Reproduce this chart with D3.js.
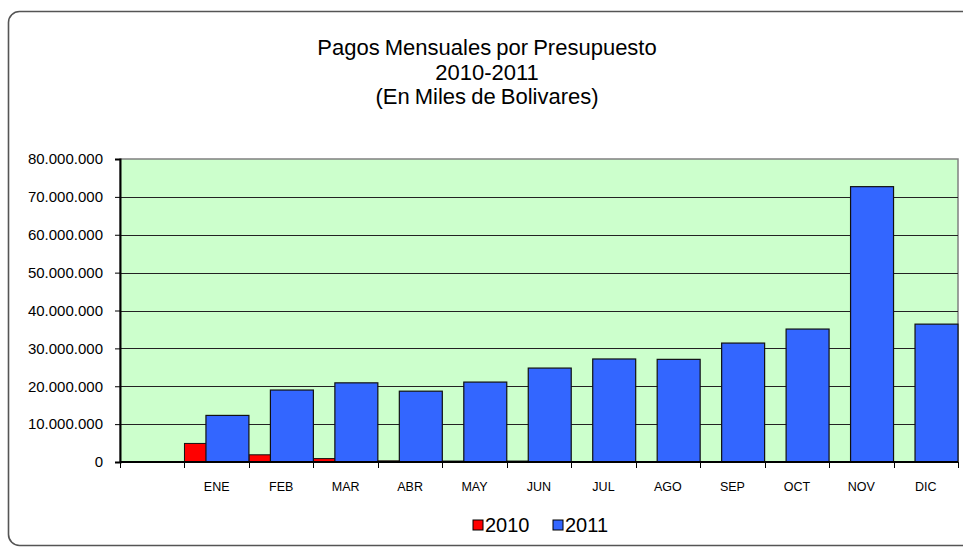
<!DOCTYPE html>
<html>
<head>
<meta charset="utf-8">
<script src="https://cdn.jsdelivr.net/npm/d3@7"></script>
<style>
  body { margin: 0; background: #fff; }
  svg { display: block; font-family: "Liberation Sans", Arial, sans-serif; }
</style>
</head>
<body>
<div id="canvas"></div>
<script>
// chart data
var months = ["", "ENE", "FEB", "MAR", "ABR", "MAY", "JUN", "JUL", "AGO", "SEP", "OCT", "NOV", "DIC"];
var pagos2010 = [0, 4900000, 1900000, 900000, 300000, 250000, 250000, 100000, 100000, 100000, 0, 0, 0];
var pagos2011 = [100000, 12300000, 19000000, 20900000, 18700000, 21100000, 24800000, 27200000, 27100000, 31400000, 35100000, 72700000, 36400000];
var yticks = [0, 10000000, 20000000, 30000000, 40000000, 50000000, 60000000, 70000000, 80000000];
var series = ["2010", "2011"];
var colors = ["#FF0000", "#3366FF"];
var titleLines = ["Pagos Mensuales por Presupuesto", "2010-2011", "(En Miles de Bolivares)"];

var W = 963, H = 547;
var plot = { left: 120, right: 958, top: 159, bottom: 462 };

var svg = d3.select("#canvas").append("svg")
  .attr("width", W)
  .attr("height", H);

// outer frame
svg.append("rect")
  .attr("x", 8.5).attr("y", 11.5)
  .attr("width", 980).attr("height", 534)
  .attr("rx", 11)
  .attr("fill", "#fff")
  .attr("stroke", "#555")
  .attr("stroke-width", 1.6);

// title
svg.append("g").selectAll("text")
  .data(titleLines)
  .enter()
  .append("text")
  .attr("x", 487)
  .attr("y", (d, i) => 55 + i * 24.5)
  .attr("text-anchor", "middle")
  .attr("font-size", 22)
  .attr("word-spacing", -1)
  .attr("fill", "#000")
  .text(d => d);

var fmt = d3.formatLocale({ decimal: ",", thousands: ".", grouping: [3], currency: ["", ""] }).format(",");

var x = d3.scaleBand().domain(d3.range(months.length)).range([plot.left, plot.right]).padding(0);
var y = d3.scaleLinear().domain([0, 80000000]).range([plot.bottom, plot.top]);
var bw = x.bandwidth();

// plot background
svg.append("rect")
  .attr("x", plot.left).attr("y", plot.top)
  .attr("width", plot.right - plot.left).attr("height", plot.bottom - plot.top)
  .attr("fill", "#CCFFCC")
  .attr("stroke", "#808080")
  .attr("stroke-width", 1.5);

// gridlines
svg.append("g").selectAll("line")
  .data(yticks.slice(1, -1))
  .enter()
  .append("line")
  .attr("x1", plot.left).attr("x2", plot.right)
  .attr("y1", d => Math.round(y(d)) + 0.5).attr("y2", d => Math.round(y(d)) + 0.5)
  .attr("stroke", "#222")
  .attr("stroke-width", 1);

// bars 2010 (behind), 2011 overlapping
svg.append("g").selectAll("rect")
  .data(pagos2010)
  .enter()
  .append("rect")
  .attr("x", (d, i) => x(i))
  .attr("y", d => y(d))
  .attr("width", bw * 2 / 3)
  .attr("height", d => y(0) - y(d))
  .attr("fill", colors[0])
  .attr("stroke", "#111")
  .attr("stroke-width", 1);

svg.append("g").selectAll("rect")
  .data(pagos2011)
  .enter()
  .append("rect")
  .attr("x", (d, i) => x(i) + bw / 3)
  .attr("y", d => y(d))
  .attr("width", bw * 2 / 3)
  .attr("height", d => y(0) - y(d))
  .attr("fill", colors[1])
  .attr("stroke", "#111")
  .attr("stroke-width", 1.2);

// y axis
var yAxis = d3.axisLeft(y).tickValues(yticks).tickFormat(fmt).tickSize(5).tickPadding(12);
var gy = svg.append("g").attr("transform", "translate(" + plot.left + ",0)").call(yAxis);
gy.select(".domain").attr("stroke", "#000").attr("stroke-width", 2);
gy.selectAll(".tick line").attr("stroke", "#000");
gy.selectAll("text").attr("font-size", 15).attr("font-family", "Liberation Sans, Arial, sans-serif").attr("fill", "#000");

// x axis: labels centred, ticks on category boundaries
var xAxis = d3.axisBottom(x).tickFormat(i => months[i]).tickSize(0).tickPadding(20);
var gx = svg.append("g").attr("transform", "translate(0," + plot.bottom + ")").call(xAxis);
gx.select(".domain").remove();
gx.selectAll("text").attr("font-size", 12.5).attr("font-family", "Liberation Sans, Arial, sans-serif").attr("fill", "#000");

svg.append("line")
  .attr("x1", plot.left).attr("x2", plot.right)
  .attr("y1", plot.bottom).attr("y2", plot.bottom)
  .attr("stroke", "#000").attr("stroke-width", 2);

svg.append("g").selectAll("line")
  .data(d3.range(months.length + 1))
  .enter()
  .append("line")
  .attr("x1", i => Math.round(plot.left + i * bw) + 0.5)
  .attr("x2", i => Math.round(plot.left + i * bw) + 0.5)
  .attr("y1", plot.bottom).attr("y2", plot.bottom + 6)
  .attr("stroke", "#000");

// legend
var legend = svg.append("g").selectAll("g")
  .data(series)
  .enter()
  .append("g")
  .attr("transform", (d, i) => "translate(" + (473 + i * 80) + ",520)");

legend.append("rect")
  .attr("width", 10).attr("height", 10)
  .attr("fill", (d, i) => colors[i])
  .attr("stroke", "#000");

legend.append("text")
  .attr("x", 12).attr("y", 12)
  .attr("font-size", 20)
  .attr("fill", "#000")
  .text(d => d);
</script>
</body>
</html>
